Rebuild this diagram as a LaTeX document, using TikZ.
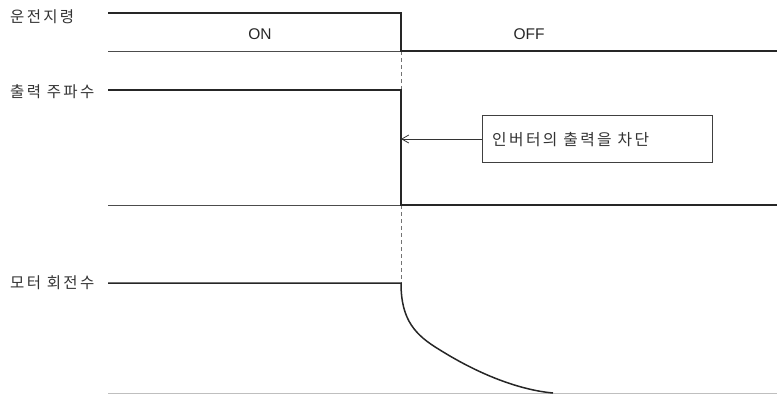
\documentclass[tikz,border=0pt]{standalone}
\usepackage{fontspec}
\setmainfont{Liberation Sans}
\newfontfamily\kr{Noto Sans CJK KR}[LetterSpace=15]
\usetikzlibrary{arrows.meta}
\begin{document}
\begin{tikzpicture}[x=1pt,y=-1pt,
  sig/.style={line width=1.8pt,black!85},
  base/.style={line width=0.9pt,black!70},
  faint/.style={line width=0.9pt,black!25},
  guide/.style={line width=0.8pt,black!55,dash pattern=on 4pt off 3pt},
  lbl/.style={anchor=west,inner sep=0pt,font=\kr\fontsize{15.5}{16}\selectfont,text=black!80},
  state/.style={inner sep=0pt,font=\fontsize{15.5}{16}\selectfont,text=black!85},
  note/.style={draw=black!75,line width=0.8pt,minimum width=230pt,minimum height=47pt,inner sep=0pt},
  notetext/.style={anchor=west,inner sep=0pt,font=\kr\fontsize{15.8}{16}\selectfont,text=black!80}]
\useasboundingbox (0,0) rectangle (777,394);
% labels
\node[lbl] (l1) at (10,17) {운전지령};
\node[lbl] (l2) at (10,92) {출력 주파수};
\node[lbl] (l3) at (10,283) {모터 회전수};
\node[state] (on) at (260,34) {ON};
\node[state] (off) at (529,34) {OFF};
% coordinates
\coordinate (a0) at (108,13);
\coordinate (a1) at (401,13);
\coordinate (a2) at (401,51);
\coordinate (a3) at (777,51);
\coordinate (ab) at (108,51);
\coordinate (b0) at (108,90);
\coordinate (b1) at (401,90);
\coordinate (b2) at (401,205);
\coordinate (b3) at (777,205);
\coordinate (bb) at (108,205);
\coordinate (c0) at (108,283);
\coordinate (c1) at (401,283);
\coordinate (cm) at (440,350);
\coordinate (c2) at (553,393);
\coordinate (cb) at (108,393);
\coordinate (ce) at (777,393);
\coordinate (arr) at (401,139);
% baselines
\draw[base] (ab) -- (a2);
\draw[base] (bb) -- (b2);
\draw[faint] (cb) -- (ce);
% dashed guide
\draw[guide] (a2) -- (b1);
\draw[guide] (b2) -- (c1);
% signals
\draw[sig] (a0) -- (a1) -- (a2) -- (a3);
\draw[sig] (b0) -- (b1) -- (b2) -- (b3);
\draw[sig,line width=1.5pt] (c0) -- (c1) .. controls (401,320) and (415,335) .. (cm) .. controls (480,375) and (520,390) .. (c2);
% note
\node[note] (box) at (597,139) {};
\node[notetext] (nt) at (492,140) {인버터의 출력을 차단};
\draw[line width=0.8pt,black!80,-{Straight Barb[length=7pt,width=8pt]}] (box.west) -- (arr);
\end{tikzpicture}
\end{document}
